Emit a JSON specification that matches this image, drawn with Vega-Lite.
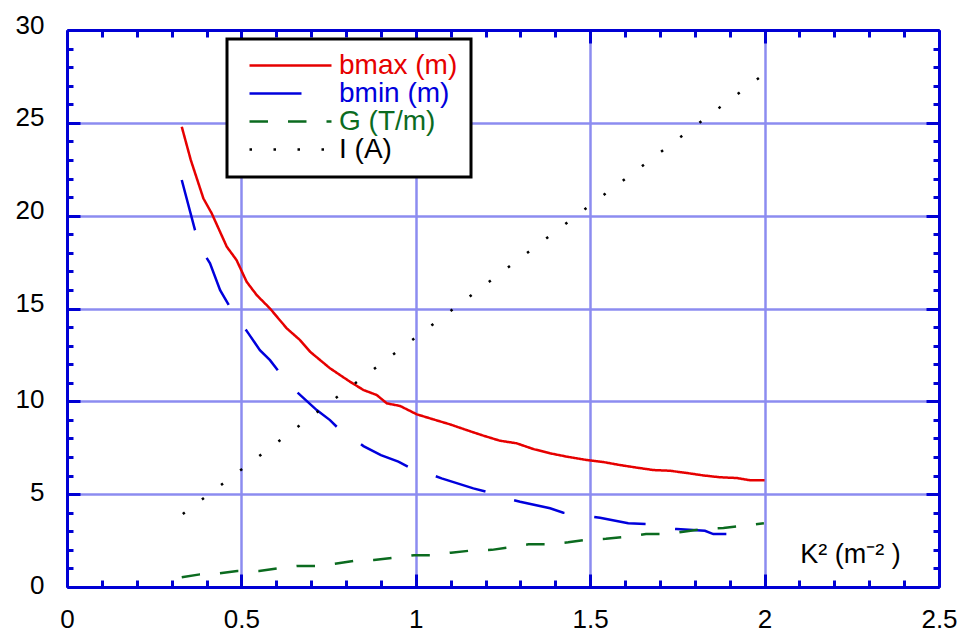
{
  "$schema": "https://vega.github.io/schema/vega-lite/v6.json",
  "width": 872,
  "height": 557,
  "autosize": {"type": "none"},
  "padding": {"left": 67, "top": 30, "right": 22, "bottom": 43},
  "background": "white",
  "config": {"view": {"stroke": null}, "font": "Liberation Sans"},
  "data": {"values": [
    {"s":"bmax (m)","k":0.329,"v":24.79},{"s":"bmax (m)","k":0.355,"v":22.99},{"s":"bmax (m)","k":0.391,"v":20.93},{"s":"bmax (m)","k":0.415,"v":20.12},{"s":"bmax (m)","k":0.458,"v":18.33},{"s":"bmax (m)","k":0.486,"v":17.61},{"s":"bmax (m)","k":0.515,"v":16.44},{"s":"bmax (m)","k":0.544,"v":15.72},{"s":"bmax (m)","k":0.582,"v":15.0},{"s":"bmax (m)","k":0.63,"v":13.93},{"s":"bmax (m)","k":0.668,"v":13.3},{"s":"bmax (m)","k":0.697,"v":12.67},{"s":"bmax (m)","k":0.754,"v":11.78},{"s":"bmax (m)","k":0.811,"v":11.06},{"s":"bmax (m)","k":0.85,"v":10.61},{"s":"bmax (m)","k":0.888,"v":10.34},{"s":"bmax (m)","k":0.917,"v":9.89},{"s":"bmax (m)","k":0.955,"v":9.75},{"s":"bmax (m)","k":1.003,"v":9.3},{"s":"bmax (m)","k":1.05,"v":9.03},{"s":"bmax (m)","k":1.098,"v":8.76},{"s":"bmax (m)","k":1.146,"v":8.45},{"s":"bmax (m)","k":1.194,"v":8.15},{"s":"bmax (m)","k":1.241,"v":7.88},{"s":"bmax (m)","k":1.289,"v":7.74},{"s":"bmax (m)","k":1.337,"v":7.43},{"s":"bmax (m)","k":1.385,"v":7.2},{"s":"bmax (m)","k":1.433,"v":7.02},{"s":"bmax (m)","k":1.49,"v":6.84},{"s":"bmax (m)","k":1.538,"v":6.73},{"s":"bmax (m)","k":1.585,"v":6.57},{"s":"bmax (m)","k":1.633,"v":6.43},{"s":"bmax (m)","k":1.681,"v":6.3},{"s":"bmax (m)","k":1.729,"v":6.26},{"s":"bmax (m)","k":1.777,"v":6.14},{"s":"bmax (m)","k":1.824,"v":6.01},{"s":"bmax (m)","k":1.872,"v":5.91},{"s":"bmax (m)","k":1.92,"v":5.87},{"s":"bmax (m)","k":1.958,"v":5.75},{"s":"bmax (m)","k":2.0,"v":5.75},
    {"s":"bmin (m)","k":0.329,"v":21.92},{"s":"bmin (m)","k":0.367,"v":19.22},{"s":"bmin (m)","k":0.398,"v":17.79},{"s":"bmin (m)","k":0.41,"v":17.43},{"s":"bmin (m)","k":0.439,"v":15.99},{"s":"bmin (m)","k":0.467,"v":15.09},{"s":"bmin (m)","k":0.52,"v":13.66},{"s":"bmin (m)","k":0.553,"v":12.76},{"s":"bmin (m)","k":0.582,"v":12.22},{"s":"bmin (m)","k":0.611,"v":11.51},{"s":"bmin (m)","k":0.632,"v":10.97},{"s":"bmin (m)","k":0.716,"v":9.53},{"s":"bmin (m)","k":0.754,"v":8.99},{"s":"bmin (m)","k":0.783,"v":8.45},{"s":"bmin (m)","k":0.821,"v":8.0},{"s":"bmin (m)","k":0.85,"v":7.59},{"s":"bmin (m)","k":0.9,"v":7.1},{"s":"bmin (m)","k":0.95,"v":6.75},{"s":"bmin (m)","k":1.012,"v":6.15},{"s":"bmin (m)","k":1.041,"v":6.08},{"s":"bmin (m)","k":1.074,"v":5.85},{"s":"bmin (m)","k":1.165,"v":5.31},{"s":"bmin (m)","k":1.203,"v":5.13},{"s":"bmin (m)","k":1.241,"v":4.86},{"s":"bmin (m)","k":1.299,"v":4.59},{"s":"bmin (m)","k":1.385,"v":4.24},{"s":"bmin (m)","k":1.423,"v":4.0},{"s":"bmin (m)","k":1.461,"v":3.91},{"s":"bmin (m)","k":1.528,"v":3.73},{"s":"bmin (m)","k":1.609,"v":3.43},{"s":"bmin (m)","k":1.662,"v":3.39},{"s":"bmin (m)","k":1.71,"v":3.16},{"s":"bmin (m)","k":1.748,"v":3.12},{"s":"bmin (m)","k":1.829,"v":3.03},{"s":"bmin (m)","k":1.853,"v":2.85},{"s":"bmin (m)","k":1.901,"v":2.85},{"s":"bmin (m)","k":1.92,"v":2.71},{"s":"bmin (m)","k":1.963,"v":2.57},
    {"s":"G (T/m)","k":0.329,"v":0.52},{"s":"G (T/m)","k":0.381,"v":0.68},{"s":"G (T/m)","k":0.437,"v":0.74},{"s":"G (T/m)","k":0.488,"v":0.86},{"s":"G (T/m)","k":0.551,"v":0.86},{"s":"G (T/m)","k":0.604,"v":1.0},{"s":"G (T/m)","k":0.659,"v":1.13},{"s":"G (T/m)","k":0.718,"v":1.13},{"s":"G (T/m)","k":0.773,"v":1.27},{"s":"G (T/m)","k":0.826,"v":1.42},{"s":"G (T/m)","k":0.88,"v":1.45},{"s":"G (T/m)","k":0.94,"v":1.58},{"s":"G (T/m)","k":0.995,"v":1.71},{"s":"G (T/m)","k":1.047,"v":1.71},{"s":"G (T/m)","k":1.101,"v":1.85},{"s":"G (T/m)","k":1.162,"v":1.97},{"s":"G (T/m)","k":1.218,"v":2.0},{"s":"G (T/m)","k":1.27,"v":2.14},{"s":"G (T/m)","k":1.323,"v":2.3},{"s":"G (T/m)","k":1.385,"v":2.3},{"s":"G (T/m)","k":1.437,"v":2.41},{"s":"G (T/m)","k":1.492,"v":2.55},{"s":"G (T/m)","k":1.545,"v":2.6},{"s":"G (T/m)","k":1.605,"v":2.71},{"s":"G (T/m)","k":1.66,"v":2.85},{"s":"G (T/m)","k":1.712,"v":2.85},{"s":"G (T/m)","k":1.767,"v":2.98},{"s":"G (T/m)","k":1.829,"v":3.14},{"s":"G (T/m)","k":1.882,"v":3.18},{"s":"G (T/m)","k":1.941,"v":3.3},{"s":"G (T/m)","k":1.998,"v":3.43},
    {"s":"I (A)","k":0.332,"v":3.93},{"s":"I (A)","k":1.0,"v":13.45},{"s":"I (A)","k":1.552,"v":21.3},{"s":"I (A)","k":2.0,"v":27.65}
  ]},
  "layer": [
    {
      "mark": {"type": "line", "strokeWidth": 2.5},
      "encoding": {
        "x": {"field": "k", "type": "quantitative", "scale": {"domain": [0, 2.5], "nice": false, "zero": false},
          "axis": {"orient": "bottom", "values": [0,0.5,1,1.5,2,2.5],
            "format": "~g",
            "domainColor": "#0000d4", "domainWidth": 3,
            "ticks": false, "tickSize": 0,
            "grid": true, "gridColor": "#8c8cf0", "gridWidth": 2.5,
            "labelFontSize": 26, "labelColor": "black", "labelFont": "Liberation Sans", "labelPadding": 19,
            "labelFlush": false, "labelOverlap": false, "labelBound": false,
            "title": "K² (m⁻² )", "titleX": 783, "titleY": -25, "titleFontSize": 27, "titleFontWeight": "normal",
            "titleBaseline": "alphabetic", "titleColor": "black", "titleFont": "Liberation Sans"}},
        "y": {"field": "v", "type": "quantitative", "scale": {"domain": [0, 30], "nice": false},
          "axis": {"orient": "left", "values": [0,5,10,15,20,25,30],
            "format": "~g",
            "domainColor": "#0000d4", "domainWidth": 3,
            "ticks": false, "tickSize": 0,
            "grid": true, "gridColor": "#8c8cf0", "gridWidth": 2.5,
            "labelFontSize": 26, "labelColor": "black", "labelFont": "Liberation Sans", "labelPadding": 23,
            "labelOffset": {"condition": {"test": "datum.value >= 15", "value": -5}, "value": -2},
            "labelFlush": false, "labelOverlap": false, "labelBound": false,
            "title": null}},
        "color": {"field": "s", "type": "nominal",
          "scale": {"domain": ["bmax (m)", "bmin (m)", "G (T/m)", "I (A)"], "range": ["#e60000", "#0000dc", "#0b6b1f", "#000000"]},
          "legend": {"title": null, "orient": "none", "legendX": 160, "legendY": 9, "fillColor": "white", "strokeColor": "black",
            "padding": 13, "symbolType": "stroke", "symbolSize": 6724, "symbolStrokeWidth": 2.5, "clipHeight": 27,
            "symbolOffset": 8, "labelOffset": 6, "labelFontSize": 28, "labelFont": "Liberation Sans", "labelLimit": 400, "rowPadding": -2.5,
            "encode": {"labels": {"update": {"fill": {"scale": "color", "field": "value"}}}, "legend": {"update": {"strokeWidth": {"value": 3}}}}}},
        "strokeDash": {"field": "s", "type": "nominal",
          "scale": {"domain": ["bmax (m)", "bmin (m)", "G (T/m)", "I (A)"], "range": [[1, 0], [52, 30], [18.5, 20], [2.5, 21.5]]},
          "legend": {"title": null, "orient": "none", "legendX": 160, "legendY": 9, "fillColor": "white", "strokeColor": "black",
            "padding": 13, "symbolType": "stroke", "symbolSize": 6724, "symbolStrokeWidth": 2.5, "clipHeight": 27,
            "symbolOffset": 8, "labelOffset": 6, "labelFontSize": 28, "labelFont": "Liberation Sans", "labelLimit": 400, "rowPadding": -2.5,
            "encode": {"labels": {"update": {"fill": {"scale": "color", "field": "value"}}}, "legend": {"update": {"strokeWidth": {"value": 3}}}}}}
      }
    },
    {
      "mark": {"type": "line", "opacity": 0},
      "encoding": {
        "x": {"field": "k", "type": "quantitative",
          "axis": {"orient": "top", "values": [0,0.5,1,1.5,2,2.5], "labels": false, "grid": false, "title": null,
            "domainColor": "#0000d4", "domainWidth": 3, "ticks": false}},
        "y": {"field": "v", "type": "quantitative",
          "axis": {"orient": "right", "values": [0,5,10,15,20,25,30], "labels": false, "grid": false, "title": null,
            "domainColor": "#0000d4", "domainWidth": 3, "ticks": false}}
      }
    },
    {
      "mark": {"type": "line", "opacity": 0},
      "encoding": {
        "x": {"field": "k", "type": "quantitative",
          "axis": {"orient": "bottom", "offset": -13, "values": [0,0.5,1,1.5,2,2.5], "labels": false, "grid": false, "title": null, "domain": false,
            "tickColor": "#0000d4", "tickWidth": 3, "tickSize": 13}},
        "y": {"field": "v", "type": "quantitative",
          "axis": {"orient": "left", "offset": -13, "values": [0,5,10,15,20,25,30], "labels": false, "grid": false, "title": null, "domain": false,
            "tickColor": "#0000d4", "tickWidth": 3, "tickSize": 13}}
      }
    },
    {
      "mark": {"type": "line", "opacity": 0},
      "encoding": {
        "x": {"field": "k", "type": "quantitative",
          "axis": {"orient": "top", "offset": -13, "values": [0,0.5,1,1.5,2,2.5], "labels": false, "grid": false, "title": null, "domain": false,
            "tickColor": "#0000d4", "tickWidth": 3, "tickSize": 13}},
        "y": {"field": "v", "type": "quantitative",
          "axis": {"orient": "right", "offset": -13, "values": [0,5,10,15,20,25,30], "labels": false, "grid": false, "title": null, "domain": false,
            "tickColor": "#0000d4", "tickWidth": 3, "tickSize": 13}}
      }
    },
    {
      "mark": {"type": "line", "opacity": 0},
      "encoding": {
        "x": {"field": "k", "type": "quantitative",
          "axis": {"orient": "bottom", "offset": -7, "values": [0.1,0.2,0.3,0.4,0.6,0.7,0.8,0.9,1.1,1.2,1.3,1.4,1.6,1.7,1.8,1.9,2.1,2.2,2.3,2.4],
            "labels": false, "grid": false, "title": null, "domain": false,
            "tickColor": "#0000d4", "tickWidth": 3, "tickSize": 7}},
        "y": {"field": "v", "type": "quantitative",
          "axis": {"orient": "left", "offset": -6, "values": [1,2,3,4,6,7,8,9,11,12,13,14,16,17,18,19,21,22,23,24,26,27,28,29],
            "labels": false, "grid": false, "title": null, "domain": false,
            "tickColor": "#0000d4", "tickWidth": 3, "tickSize": 6}}
      }
    },
    {
      "mark": {"type": "line", "opacity": 0},
      "encoding": {
        "x": {"field": "k", "type": "quantitative",
          "axis": {"orient": "top", "offset": -7, "values": [0.1,0.2,0.3,0.4,0.6,0.7,0.8,0.9,1.1,1.2,1.3,1.4,1.6,1.7,1.8,1.9,2.1,2.2,2.3,2.4],
            "labels": false, "grid": false, "title": null, "domain": false,
            "tickColor": "#0000d4", "tickWidth": 3, "tickSize": 7}},
        "y": {"field": "v", "type": "quantitative",
          "axis": {"orient": "right", "offset": -6, "values": [1,2,3,4,6,7,8,9,11,12,13,14,16,17,18,19,21,22,23,24,26,27,28,29],
            "labels": false, "grid": false, "title": null, "domain": false,
            "tickColor": "#0000d4", "tickWidth": 3, "tickSize": 6}}
      }
    }
  ],
  "resolve": {"axis": {"x": "independent", "y": "independent"}}
}
